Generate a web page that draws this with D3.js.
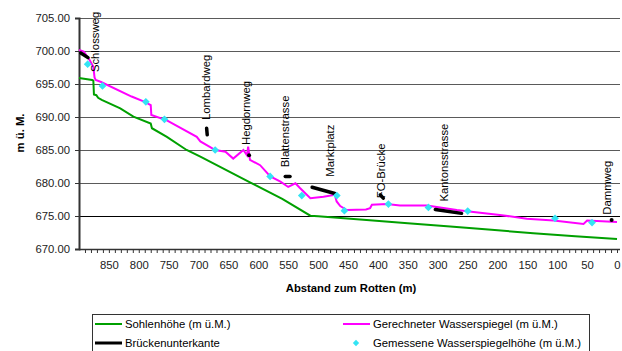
<!DOCTYPE html>
<html><head><meta charset="utf-8">
<script src="https://cdn.jsdelivr.net/npm/d3@7"></script>
<style>
body{margin:0;background:#fff}
svg{display:block;font-family:Arial,"Liberation Sans",sans-serif}
</style></head>
<body><svg id="c" width="622" height="351"></svg>
<script>
// ---- data ----
const sohleDist = [900,878,876,875,871,868,862,831,809,780,778,753,720,697,614,560,513,500,419,350,279,210,140,70,0];
const sohleH    = [695.9,695.6,695.5,693.4,693.3,692.9,692.6,691.3,690.05,689.0,688.3,687.0,685.0,684.0,680.1,677.6,675.05,674.95,674.4,673.9,673.4,672.9,672.4,671.95,671.5];

const wspDist = [900,892,882,876,874,872,863,812,790,780,779,753,703,697,672,655,642,625,619,617,614,597,580,563,550,538,530,513,491,472,469,463,452,420,413,410,385,363,318,268,240,196,151,106,56,50,0];
const wspH    = [700.15,699.9,698.6,697.6,696.0,695.6,695.3,693.1,692.3,691.8,690.3,689.5,687.0,686.3,685.0,684.75,683.7,685.0,684.2,685.5,683.5,682.7,681.0,680.2,679.4,679.95,679.2,677.7,677.9,678.2,677.2,676.5,675.9,676.0,676.2,676.7,676.8,676.6,676.6,675.9,675.6,675.15,674.6,674.3,673.8,674.3,674.1];

const messDist = [885.5,860.7,788.2,757,672.2,580.3,527.3,468.7,456,382.4,315.5,249.7,103.7,41.8];
const messH    = [698.0,694.7,692.3,689.65,685.0,681.0,678.1,678.1,675.8,676.8,676.3,675.75,674.65,674.0];

const bridgeNames     = ["Schlossweg","Lombardweg","Hegdornweg","Blattenstrasse","Marktplatz","FO-Brücke","Kantonsstrasse","Dammweg"];
const bridgeStartDist = [897,686.5,615.5,555,510,396,304,9];
const bridgeEndDist   = [885,685.5,615.5,547,472,391,260,9];
const bridgeStartH    = [699.7,688.3,684.2,681.0,679.35,678.2,676.0,674.4];
const bridgeEndH      = [699.0,687.3,684.2,681.0,678.4,677.7,675.4,674.4];
const labelDist       = [867,681,614,548.5,473.5,388.5,282.5,10];
const labelH          = [696.8,689.55,685.76,682.4,680.95,677.7,677.2,675.2];

const yTicks = [670,675,680,685,690,695,700,705];
const xMinorTicks = d3.range(0, 900, 10);
const xLabelTicks = [850,800,750,700,650,600,550,500,450,400,350,300,250,200,150,100,50,0];

const xTitle = "Abstand zum Rotten (m)";
const yTitle = "m ü. M.";
const legendLabels = ["Sohlenhöhe (m ü.M.)","Brückenunterkante","Gerechneter Wasserspiegel (m ü.M.)","Gemessene Wasserspiegelhöhe (m ü.M.)"];

// ---- chart ----
const svg = d3.select("#c");
const x = d3.scaleLinear().domain([900,-5]).range([79,620]);
const y = d3.scaleLinear().domain([670,705]).range([249,18]);
const FS = "11.3px";

// gridlines
svg.append("g").selectAll("line").data(yTicks.filter(v=>v>670)).join("line")
  .attr("x1",79).attr("x2",620)
  .attr("y1",d=>Math.round(y(d))+0.5).attr("y2",d=>Math.round(y(d))+0.5)
  .attr("stroke",d=>d===675?"#000":"#5a5a5a").attr("stroke-width",1);

// y axis
const ya = svg.append("g").attr("transform","translate(79,0)")
  .call(d3.axisLeft(y).tickValues(yTicks).tickFormat(d3.format(".2f")).tickSize(4).tickPadding(5));
ya.select(".domain").attr("stroke","#333").attr("stroke-width",2);
ya.selectAll(".tick line").attr("stroke","#333");
ya.selectAll("text").attr("font-size",FS).attr("fill","#222").attr("font-family","Arial, 'Liberation Sans', sans-serif");

// x axis
const xa = svg.append("g").attr("transform","translate(0,249)")
  .call(d3.axisBottom(x).tickValues(xMinorTicks).tickSize(4).tickPadding(8)
    .tickFormat(d=> xLabelTicks.includes(d) ? String(d) : ""));
xa.select(".domain").attr("stroke","#333").attr("stroke-width",1.5).attr("d","M79,0.5H620");
xa.selectAll(".tick line").attr("stroke","#333");
xa.selectAll("text").attr("font-size",FS).attr("fill","#222").attr("font-family","Arial, 'Liberation Sans', sans-serif");

// lines
const line = d3.line().x(d=>x(d[0])).y(d=>y(d[1]));
svg.append("path").datum(sohleDist.map((d,i)=>[d,sohleH[i]]))
  .attr("d",line).attr("fill","none").attr("stroke","#00a000").attr("stroke-width",2);
svg.append("path").datum(wspDist.map((d,i)=>[d,wspH[i]]))
  .attr("d",line).attr("fill","none").attr("stroke","#ff00ff").attr("stroke-width",2);

// bridges
bridgeNames.forEach((n,i)=>{
  if (bridgeStartDist[i]===bridgeEndDist[i] && bridgeStartH[i]===bridgeEndH[i]) {
    svg.append("circle").attr("cx",x(bridgeStartDist[i])).attr("cy",y(bridgeStartH[i])).attr("r",2).attr("fill","#000");
  } else {
    svg.append("line").attr("x1",x(bridgeStartDist[i])).attr("y1",y(bridgeStartH[i]))
      .attr("x2",x(bridgeEndDist[i])).attr("y2",y(bridgeEndH[i]))
      .attr("stroke","#000").attr("stroke-width",3.5).attr("stroke-linecap","round");
  }
});

// measured points (square diamonds)
const diamond = d3.symbol().type(d3.symbolSquare).size(30);
svg.append("g").selectAll("path").data(messDist.map((d,i)=>[d,messH[i]])).join("path")
  .attr("d",diamond).attr("transform",d=>`translate(${x(d[0])},${y(d[1])}) rotate(45)`)
  .attr("fill","#33e4f4");

// bridge labels
svg.append("g").selectAll("text").data(bridgeNames).join("text")
  .attr("transform",(d,i)=>`translate(${x(labelDist[i])},${y(labelH[i])}) rotate(-90)`)
  .attr("font-size",FS).attr("fill","#000").text(d=>d);

// titles
svg.append("text").attr("x",351).attr("y",292).attr("text-anchor","middle")
  .attr("font-size",FS).attr("font-weight","bold").text(xTitle);
svg.append("text").attr("transform","translate(24,133) rotate(-90)").attr("text-anchor","middle")
  .attr("font-size",FS).attr("font-weight","bold").text(yTitle);

// legend
const lg = svg.append("g");
lg.append("rect").attr("x",92.5).attr("y",314.5).attr("width",497).attr("height",40)
  .attr("fill","#fff").attr("stroke","#333");
const items = [
  {t:legendLabels[0], type:"line", c:"#00a000", w:2, lx:95, tx:125, cy:324},
  {t:legendLabels[1], type:"line", c:"#000", w:3, lx:95, tx:125, cy:343},
  {t:legendLabels[2], type:"line", c:"#ff00ff", w:2, lx:343, tx:373, cy:324},
  {t:legendLabels[3], type:"dia", c:"#33e4f4", lx:343, tx:373, cy:343}
];
items.forEach(it=>{
  if (it.type==="line") {
    lg.append("line").attr("x1",it.lx).attr("x2",it.lx+27).attr("y1",it.cy).attr("y2",it.cy)
      .attr("stroke",it.c).attr("stroke-width",it.w);
  } else {
    lg.append("path").attr("d",d3.symbol().type(d3.symbolSquare).size(20)())
      .attr("transform",`translate(${it.lx+13},${it.cy}) rotate(45)`).attr("fill",it.c);
  }
  lg.append("text").attr("x",it.tx).attr("y",it.cy+4).attr("font-size",FS).attr("fill","#000").text(it.t);
});
</script>
</body></html>
